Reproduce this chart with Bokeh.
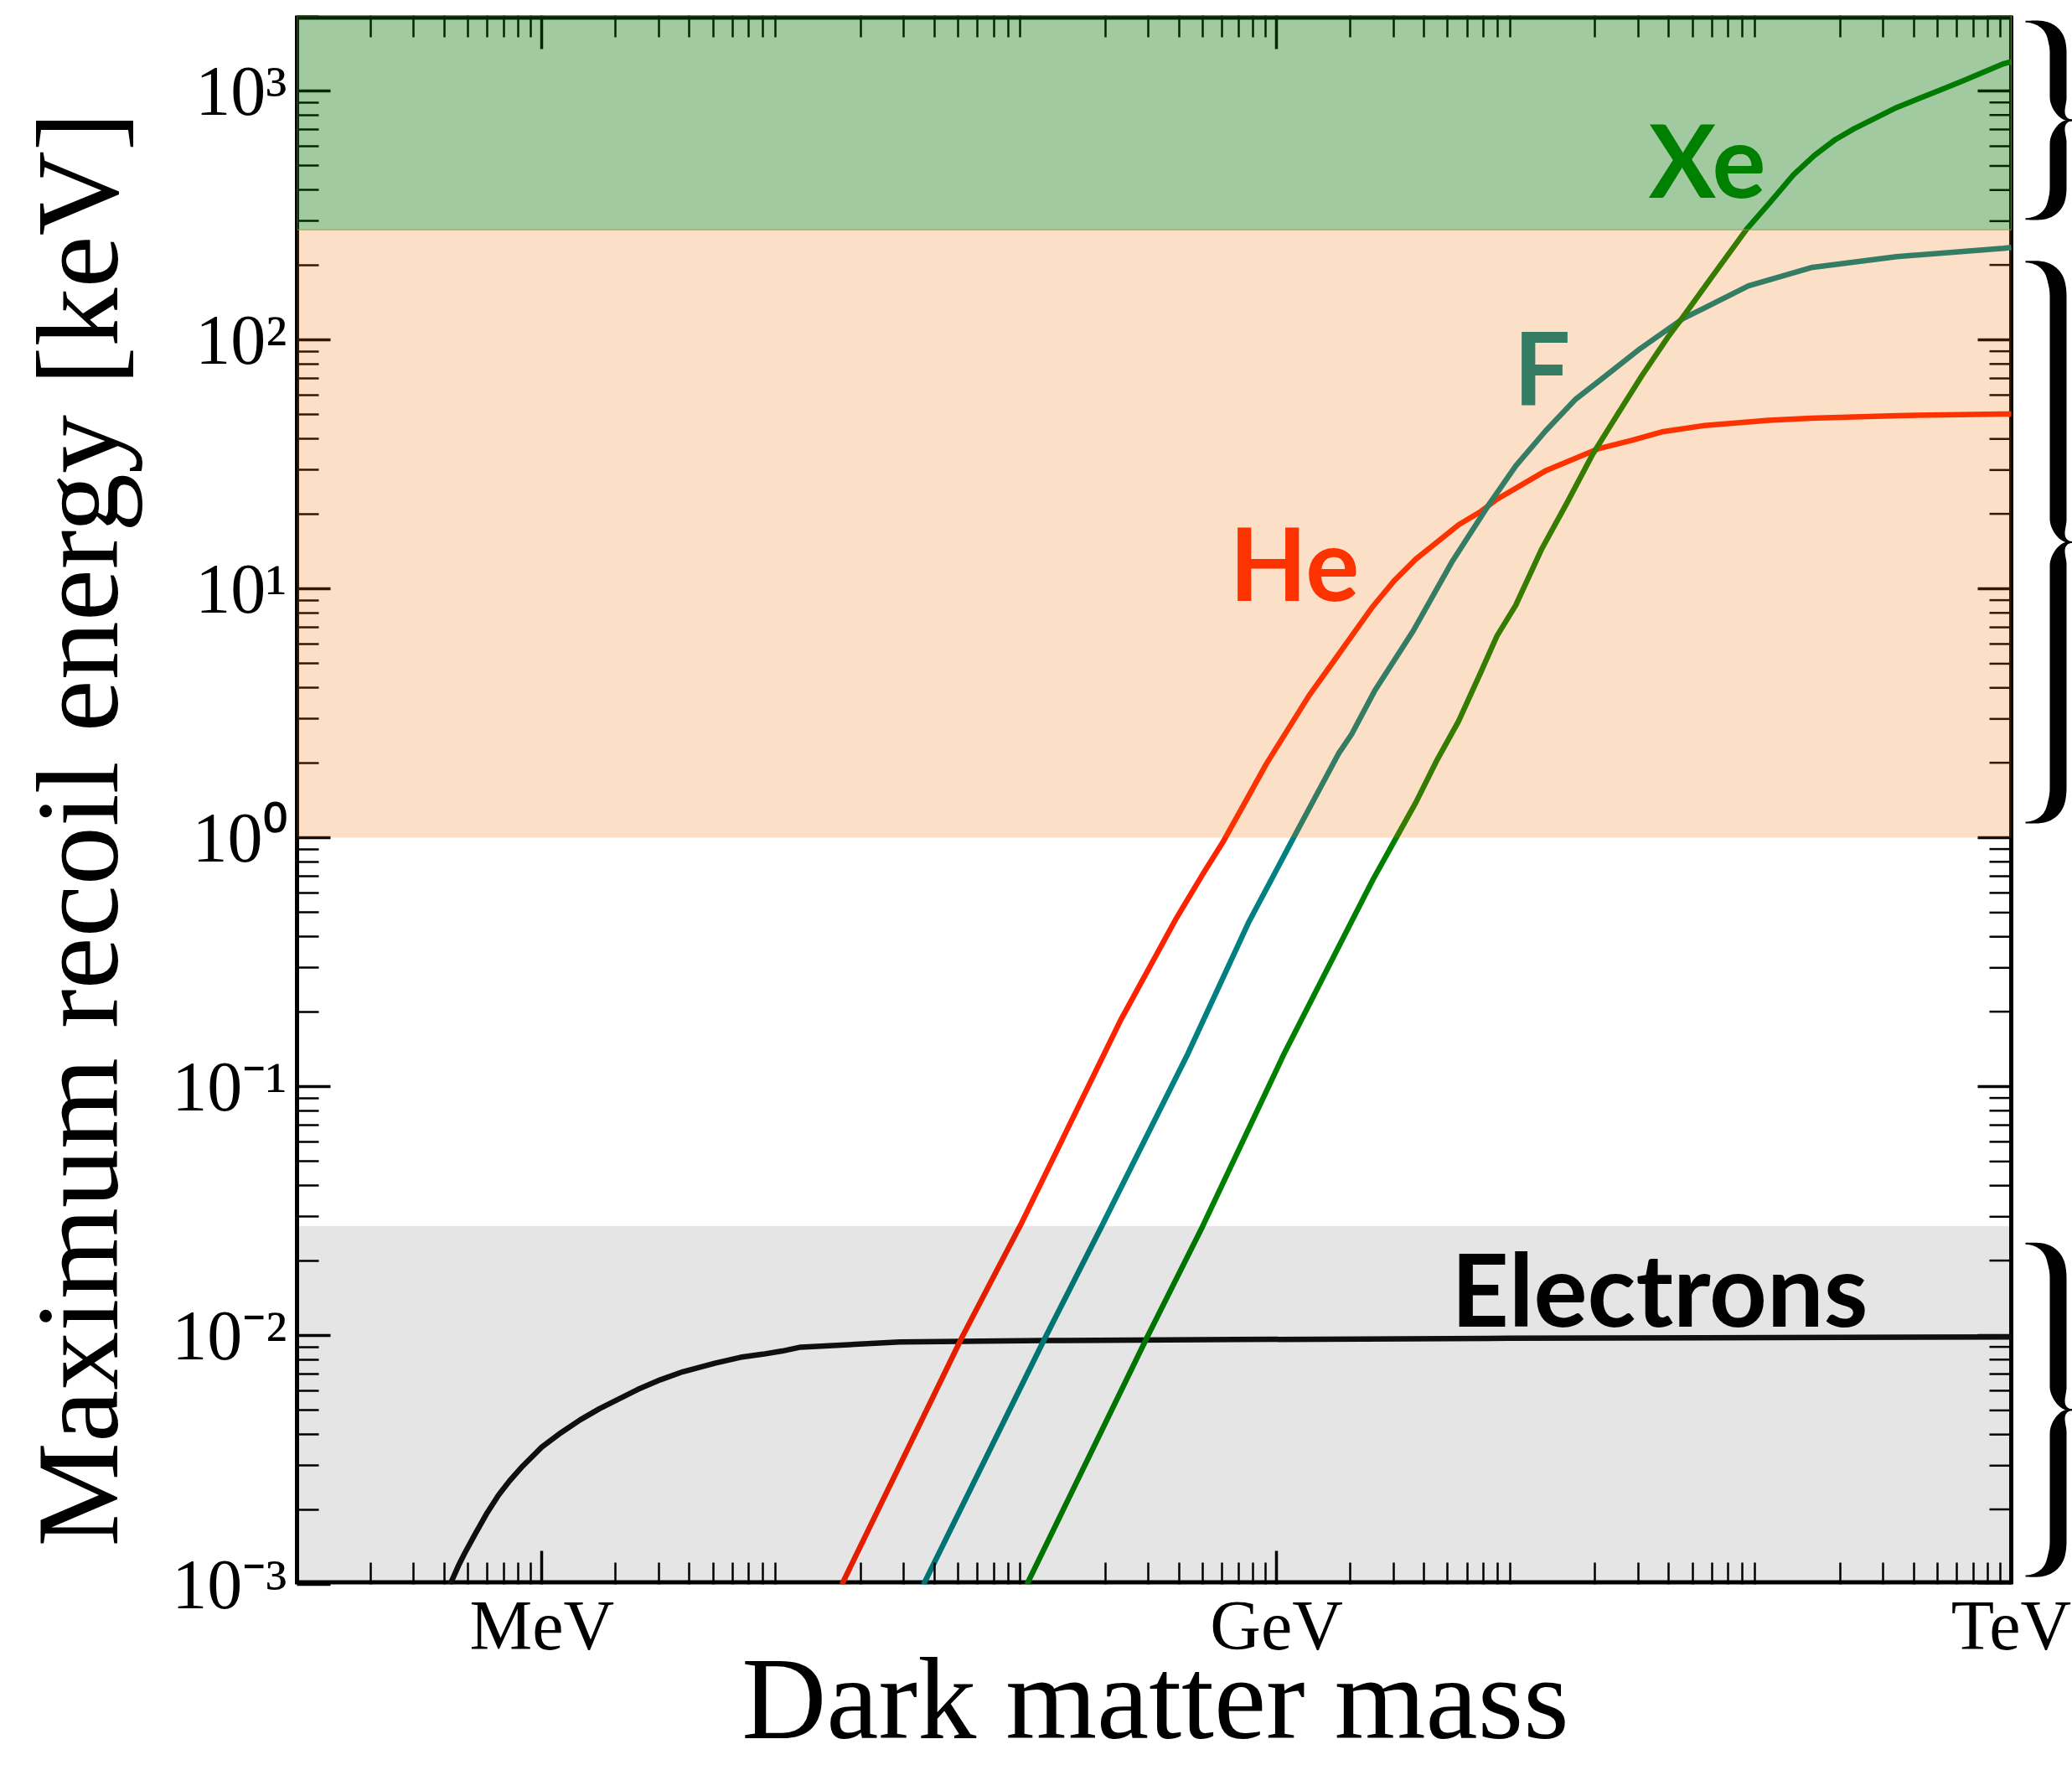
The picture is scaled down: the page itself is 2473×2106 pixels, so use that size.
import numpy as np
from bokeh.plotting import figure
from bokeh.models import (FixedTicker, CustomJSTickFormatter, BoxAnnotation,
                          LogAxis, Range1d, ColumnDataSource)
from bokeh.core.properties import value
from bokeh.embed import file_html
from bokeh.resources import INLINE

# ---- data: dark matter mass [GeV] vs maximum recoil energy [keV] ----
electron_mass = [4.22e-4, 4.565e-4, 4.85e-4, 5.31e-4, 5.98e-4, 6.65e-4, 7.39e-4, 8.34e-4,
                 9.99e-4, 1.197e-3, 1.434e-3, 1.718e-3, 2.058e-3, 2.466e-3, 3.047e-3, 3.76e-3,
                 5.08e-3, 6.46e-3, 7.98e-3, 9.57e-3, 1.139e-2, 2.888e-2, 0.112, 0.683, 8.89, 1000]
electron_energy = [1.0e-3, 1.19e-3, 1.34e-3, 1.578e-3, 1.942e-3, 2.285e-3, 2.61e-3, 2.985e-3,
                   3.563e-3, 4.071e-3, 4.585e-3, 5.082e-3, 5.557e-3, 6.075e-3, 6.64e-3, 7.15e-3,
                   7.74e-3, 8.17e-3, 8.41e-3, 8.66e-3, 8.98e-3, 9.41e-3, 9.545e-3, 9.63e-3,
                   9.75e-3, 9.87e-3]

he_mass = [0.01679, 0.05195, 0.0914, 0.2309, 0.3907, 0.4970, 0.6076, 0.7427, 0.9077, 1.1095,
           1.356, 1.658, 2.026, 2.478, 3.029, 3.703, 4.526, 5.533, 6.763, 7.94, 12.65, 20.49,
           28.25, 37.43, 55.95, 102.1, 152.6, 340.9, 930, 1000]
he_energy = [1.0e-3, 9.85e-3, 0.02862, 0.1851, 0.4768, 0.7075, 0.9703, 1.384, 1.977, 2.711,
             3.718, 4.901, 6.461, 8.518, 10.80, 13.16, 15.42, 18.06, 20.32, 22.88, 29.93, 36.47,
             39.48, 42.70, 45.29, 47.53, 48.46, 49.63, 50.40, 50.4]

f_mass = [0.03619, 0.1120, 0.1927, 0.4345, 0.7731, 1.155, 1.789, 2.026, 2.518, 3.614, 5.187,
          7.450, 9.478, 12.56, 16.68, 21.16, 30.59, 45.69, 84.43, 152.4, 340.1, 931.5, 1000]
f_energy = [1.0e-3, 9.545e-3, 0.02735, 0.1356, 0.4617, 0.9710, 2.173, 2.606, 3.898, 6.775, 12.76,
            22.17, 31.16, 43.13, 57.88, 69.44, 92.34, 121.7, 164.7, 195.2, 215.9, 233.3, 235.1]

xe_mass = [0.09561, 0.2961, 0.4980, 1.0735, 2.026, 2.478, 3.029, 3.703, 4.526, 5.533, 6.763,
           7.941, 9.478, 12.06, 15.35, 19.53, 24.85, 31.07, 39.66, 45.76, 60.61, 83.14, 103.6,
           129.2, 157.2, 191.5, 228.0, 341.0, 509.4, 622.6, 930.0, 1000]
xe_energy = [1.0e-3, 9.85e-3, 0.02735, 0.1356, 0.4617, 0.6800, 0.9703, 1.384, 2.056, 2.934, 4.529,
             6.463, 8.594, 14.37, 22.17, 34.74, 50.77, 71.92, 102.7, 124.0, 182.0, 278.7, 357.2,
             461.2, 550.9, 638.3, 705.3, 859.0, 1007, 1090, 1286, 1312]

# recoil-energy regions [keV]
nuclear_high_edge = 277.0     # green region above this
nuclear_low_edge = 1.0        # orange region between the two edges
electron_edge = 0.0275        # grey region below this

# vertical extent of the curly braces [keV]
brace_top = [1900.0, 206.0, 0.0234]
brace_bottom = [306.0, 1.15, 0.00108]

# tick labels
mass_ticks = [1e-3, 1.0, 1e3]
mass_tick_labels = ["MeV", "GeV", "TeV"]
energy_ticks = [1e-3, 1e-2, 1e-1, 1.0, 1e1, 1e2, 1e3]
energy_tick_labels = ["10\u207b\u00b3", "10\u207b\u00b2", "10\u207b\u00b9", "10\u2070",
                      "10\u00b9", "10\u00b2", "10\u00b3"]

# curve labels
label_text = ["Xe", "F", "He", "Electrons"]
label_mass = [33.1, 9.29, 0.643, 5.16]
label_energy = [395.0, 57.9, 9.48, 0.0115]
label_color = ["#008000", "#357c64", "#fc3300", "#000000"]

# ---- layout ----
W, H = 2473, 2106
LEFT, TOP, BOTTOM = 354, 18, 214
BRACE_W = 73                          # strip right of the TeV edge holding the braces
X_MIN, X_EDGE = 1e-4, 1e3             # plotted mass interval
Y_MIN, Y_MAX = 1e-3, 2010.0

FRAME_W = W - LEFT
FRAME_H = H - TOP - BOTTOM
PX_X = (FRAME_W - BRACE_W) / (np.log10(X_EDGE) - np.log10(X_MIN))   # px per decade
PX_Y = FRAME_H / (np.log10(Y_MAX) - np.log10(Y_MIN))
X_RIGHT = 10 ** (np.log10(X_EDGE) + BRACE_W / PX_X)

p = figure(width=W, height=H, x_axis_type="log", y_axis_type="log",
           x_range=Range1d(X_MIN, X_RIGHT), y_range=Range1d(Y_MIN, Y_MAX),
           output_backend="svg", toolbar_location=None,
           min_border_left=LEFT, min_border_right=0,
           min_border_top=TOP, min_border_bottom=BOTTOM)
p.xgrid.visible = False
p.ygrid.visible = False
p.outline_line_color = None
p.background_fill_color = "white"
p.border_fill_color = "white"

x_minor = [m * 10.0 ** k for k in range(-4, 3) for m in range(2, 10)]
y_minor = [m * 10.0 ** k for k in range(-3, 4) for m in range(2, 10) if m * 10.0 ** k < Y_MAX]
x_ticker = FixedTicker(ticks=mass_ticks, minor_ticks=x_minor)
y_ticker = FixedTicker(ticks=energy_ticks, minor_ticks=y_minor)

MAJOR_LEN, MINOR_LEN = 40, 26
MAJOR_W, MINOR_W, FRAME_LW = 3.5, 2.5, 5

LABEL_JS = """
for (let i = 0; i < vals.length; i++) {
  if (Math.abs(Math.log10(tick) - Math.log10(vals[i])) < 1e-6) return labs[i];
}
return "";
"""


def style_axis(ax, ticker):
    ax.ticker = ticker
    ax.axis_line_width = FRAME_LW
    ax.axis_line_color = "black"
    ax.major_tick_in = MAJOR_LEN
    ax.major_tick_out = 0
    ax.minor_tick_in = MINOR_LEN
    ax.minor_tick_out = 0
    ax.major_tick_line_width = MAJOR_W
    ax.minor_tick_line_width = MINOR_W
    ax.major_tick_line_color = "black"
    ax.minor_tick_line_color = "black"
    ax.major_label_text_font = "Liberation Serif"
    ax.major_label_text_font_size = "84px"
    ax.major_label_text_color = "black"
    ax.axis_label_text_font = "Liberation Serif"
    ax.axis_label_text_font_style = "normal"
    ax.axis_label_text_font_size = "140px"
    ax.axis_label_text_color = "black"


# an en space after each axis title centres the words over the TeV-bounded part of the frame
bx = p.below[0]
style_axis(bx, x_ticker)
bx.axis_line_color = None          # frame edge drawn below, stopping at TeV
bx.formatter = CustomJSTickFormatter(args=dict(vals=mass_ticks, labs=mass_tick_labels), code=LABEL_JS)
bx.axis_label = "Dark matter mass\u2002"
bx.major_label_standoff = 2
bx.axis_label_standoff = -40

ly = p.left[0]
style_axis(ly, y_ticker)
ly.formatter = CustomJSTickFormatter(args=dict(vals=energy_ticks, labs=energy_tick_labels), code=LABEL_JS)
ly.axis_label = "Maximum recoil energy [keV]\u2002"
ly.major_label_standoff = 12
ly.axis_label_standoff = 32

top_axis = LogAxis()
style_axis(top_axis, x_ticker)
top_axis.axis_line_color = None
top_axis.formatter = CustomJSTickFormatter(code="return '';")
top_axis.major_label_text_font_size = "1px"
top_axis.major_label_standoff = 0
p.add_layout(top_axis, "above")

# ---- frame edges (top, bottom, right) ending at the TeV edge ----
p.segment(x0=[X_MIN, X_MIN, X_EDGE], y0=[Y_MIN, Y_MAX, Y_MIN],
          x1=[X_EDGE, X_EDGE, X_EDGE], y1=[Y_MIN, Y_MAX, Y_MAX],
          line_color="black", line_width=[2 * FRAME_LW, 2 * FRAME_LW, FRAME_LW])

# inward ticks along the right edge
for ticks, length, lw in ((energy_ticks, MAJOR_LEN, MAJOR_W), (y_minor, MINOR_LEN, MINOR_W)):
    x_in = 10 ** (np.log10(X_EDGE) - length / PX_X)
    p.segment(x0=[X_EDGE] * len(ticks), y0=ticks, x1=[x_in] * len(ticks), y1=ticks,
              line_color="black", line_width=lw)

# ---- curves ----
for mass, energy, color in ((electron_mass, electron_energy, "#111111"),
                            (he_mass, he_energy, "#ff2200"),
                            (f_mass, f_energy, "#008080"),
                            (xe_mass, xe_energy, "#008000")):
    p.line(mass, energy, line_color=color, line_width=6.5, line_join="round")

# ---- translucent recoil-energy regions, painted over curves and axes ----
p.add_layout(BoxAnnotation(bottom=nuclear_high_edge, right=X_EDGE, fill_color="#006e00",
                           fill_alpha=0.37, line_color="#8aa060", line_alpha=0.6, line_width=1.5))
p.add_layout(BoxAnnotation(bottom=nuclear_low_edge, top=nuclear_high_edge, right=X_EDGE,
                           fill_color="#f06e00", fill_alpha=0.22, line_color=None))
p.add_layout(BoxAnnotation(top=electron_edge, right=X_EDGE, fill_color="black", fill_alpha=0.10,
                           line_color=None))

# ---- curve labels ----
src = ColumnDataSource(dict(x=label_mass, y=label_energy, t=label_text, c=label_color))
p.text(x="x", y="y", text="t", text_color="c", source=src, text_font=value("Lato"),
       text_font_style="bold", text_font_size="120px", text_align="left",
       text_baseline="alphabetic", y_offset=-38, level="overlay")


# ---- curly braces in the strip right of the TeV edge ----
def quad(p0, p1, p2, n=40):
    t = np.linspace(0.0, 1.0, n)[:, None]
    return (1 - t) ** 2 * np.array(p0) + 2 * (1 - t) * t * np.array(p1) + t ** 2 * np.array(p2)


def smooth(t):
    t = np.clip(t, 0.0, 1.0)
    return t * t * (3 - 2 * t)


def brace_arm(height, tip_x=17.0, stem_x=56.0, cusp_x=72.5, wmin=2.0, wmax=20.0):
    """Outline of the upper half of a '}' in pixels (x right of the edge, v down from the top)."""
    half = height / 2.0
    r1 = min(42.0, 0.32 * half)
    r2 = min(30.0, 0.25 * half)
    hook = quad((tip_x, 0.0), (stem_x, 0.0), (stem_x, r1))
    stem = np.column_stack([np.full(30, stem_x), np.linspace(r1, half - r2, 30)])
    cusp = quad((stem_x, half - r2), (stem_x, half), (cusp_x, half))
    pts = np.vstack([hook, stem[1:], cusp[1:]])
    seg = np.hypot(np.diff(pts[:, 0]), np.diff(pts[:, 1]))
    d = np.concatenate([[0.0], np.cumsum(seg)])
    w = wmin + (wmax - wmin) * smooth(d / 50.0) * smooth((d[-1] - d) / 36.0)
    tx, ty = np.gradient(pts[:, 0]), np.gradient(pts[:, 1])
    norm = np.hypot(tx, ty)
    nrm = np.column_stack([-ty / norm, tx / norm]) * (w / 2)[:, None]
    return np.vstack([pts + nrm, (pts - nrm)[::-1]])


brace_xs, brace_ys = [], []
for top, bottom in zip(brace_top, brace_bottom):
    log_top = np.log10(top)
    height = (log_top - np.log10(bottom)) * PX_Y
    arm = brace_arm(height)
    for mirrored in (False, True):
        v = height - arm[:, 1] if mirrored else arm[:, 1]
        brace_xs.append(list(10 ** (np.log10(X_EDGE) + arm[:, 0] / PX_X)))
        brace_ys.append(list(10 ** (log_top - v / PX_Y)))
p.patches(brace_xs, brace_ys, fill_color="black", line_color=None)

open("out.html", "w").write(file_html(p, INLINE))
